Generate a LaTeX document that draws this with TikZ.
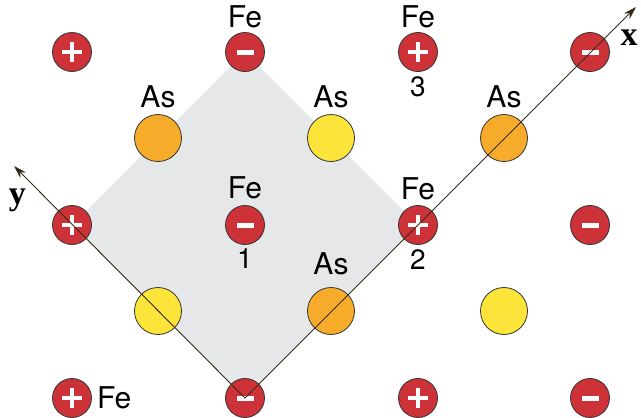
\documentclass[tikz,border=0pt]{standalone}
\usepackage{fontspec}
\usepackage{tikz}
\usetikzlibrary{arrows.meta, positioning, backgrounds}
\newfontfamily\labelfont{TeX Gyre Heros}
\newfontfamily\axisfont{Liberation Serif}
\definecolor{ferred}{RGB}{204,50,55}
\definecolor{asorange}{RGB}{246,172,42}
\definecolor{asyellow}{RGB}{252,228,58}
\definecolor{cellgray}{RGB}{230,231,232}
\definecolor{axisbrown}{RGB}{55,42,22}
\tikzset{
	atom/.style={circle, draw=black!80, line width=0.8pt, inner sep=0pt},
	fe/.style={atom, fill=ferred, minimum size=39pt},
	feneg/.style={fe, path picture={
		\fill[white] ([shift={(-8.5pt,-2.5pt)}]path picture bounding box.center) rectangle ([shift={(8.5pt,2.5pt)}]path picture bounding box.center);}},
	fepos/.style={fe, path picture={
		\fill[white] ([shift={(-10pt,-2pt)}]path picture bounding box.center) rectangle ([shift={(10pt,2pt)}]path picture bounding box.center);
		\fill[white] ([shift={(-2pt,-10pt)}]path picture bounding box.center) rectangle ([shift={(2pt,10pt)}]path picture bounding box.center);}},
	asor/.style={atom, fill=asorange, minimum size=47pt},
	asye/.style={atom, fill=asyellow, minimum size=47pt},
	atomname/.style={inner sep=0pt, font=\labelfont\fontsize{30}{36}\selectfont},
	sitenumber/.style={inner sep=0pt, font=\labelfont\fontsize{28}{34}\selectfont},
	axislabel/.style={inner sep=0pt, font=\axisfont\bfseries\fontsize{34}{40}\selectfont},
	axis/.style={draw=axisbrown, line width=0.9pt, -{Stealth[length=13pt, width=8pt]}}
}

\begin{document}
\begin{tikzpicture}[x=1pt, y=-1pt]
	\useasboundingbox (0,0) rectangle (641,418);

	% === ATOMS ===
	% Fe sites, rows from the top
	\node[fepos] (fe11) at (72,52) {};
	\node[feneg] (fe12) at (245,52) {};
	\node[fepos] (fe13) at (418,52) {};
	\node[feneg] (fe14) at (590,52) {};
	\node[fepos] (fe21) at (72,225) {};
	\node[feneg] (fe22) at (245,225) {};
	\node[fepos] (fe23) at (418,225) {};
	\node[feneg] (fe24) at (590,225) {};
	\node[fepos] (fe31) at (72,398) {};
	\node[feneg] (fe32) at (245,398) {};
	\node[fepos] (fe33) at (418,398) {};
	\node[feneg] (fe34) at (590,398) {};

	% As sites
	\node[asor] (as11) at (158,138) {};
	\node[asye] (as12) at (331,138) {};
	\node[asor] (as13) at (504,138) {};
	\node[asye] (as21) at (158,311) {};
	\node[asor] (as22) at (331,311) {};
	\node[asye] (as23) at (504,311) {};

	% Unit cell in the background
	\begin{scope}[on background layer]
		\fill[cellgray] (fe12.center) -- (fe23.center) -- (fe32.center) -- (fe21.center) -- cycle;
	\end{scope}

	% === LABELS ===
	\node[atomname, above=4pt of fe12] (lfe12) {Fe};
	\node[atomname, above=4pt of fe13] (lfe13) {Fe};
	\node[sitenumber, below=5pt of fe13] (n3) {3};
	\node[atomname, above=6pt of as11] (las11) {As};
	\node[atomname, above=6pt of as12] (las12) {As};
	\node[atomname, above=6pt of as13] (las13) {As};
	\node[atomname, above=6pt of fe22] (lfe22) {Fe};
	\node[sitenumber, below=4pt of fe22] (n1) {1};
	\node[atomname, above=5pt of fe23] (lfe23) {Fe};
	\node[sitenumber, below=5pt of fe23] (n2) {2};
	\node[atomname, above=12pt of as22] (las22) {As};
	\node[atomname, right=5pt of fe31] (lfe31) {Fe};

	% === AXES ===
	\coordinate (xtip) at (636,7);
	\coordinate (ytip) at (14,166);
	\draw[axis] (fe32.center) -- (xtip);
	\draw[axis] (fe32.center) -- (ytip);
	\node[axislabel] (xlab) at (629,38) {x};
	\node[axislabel] (ylab) at (17.5,200) {y};
\end{tikzpicture}
\end{document}
